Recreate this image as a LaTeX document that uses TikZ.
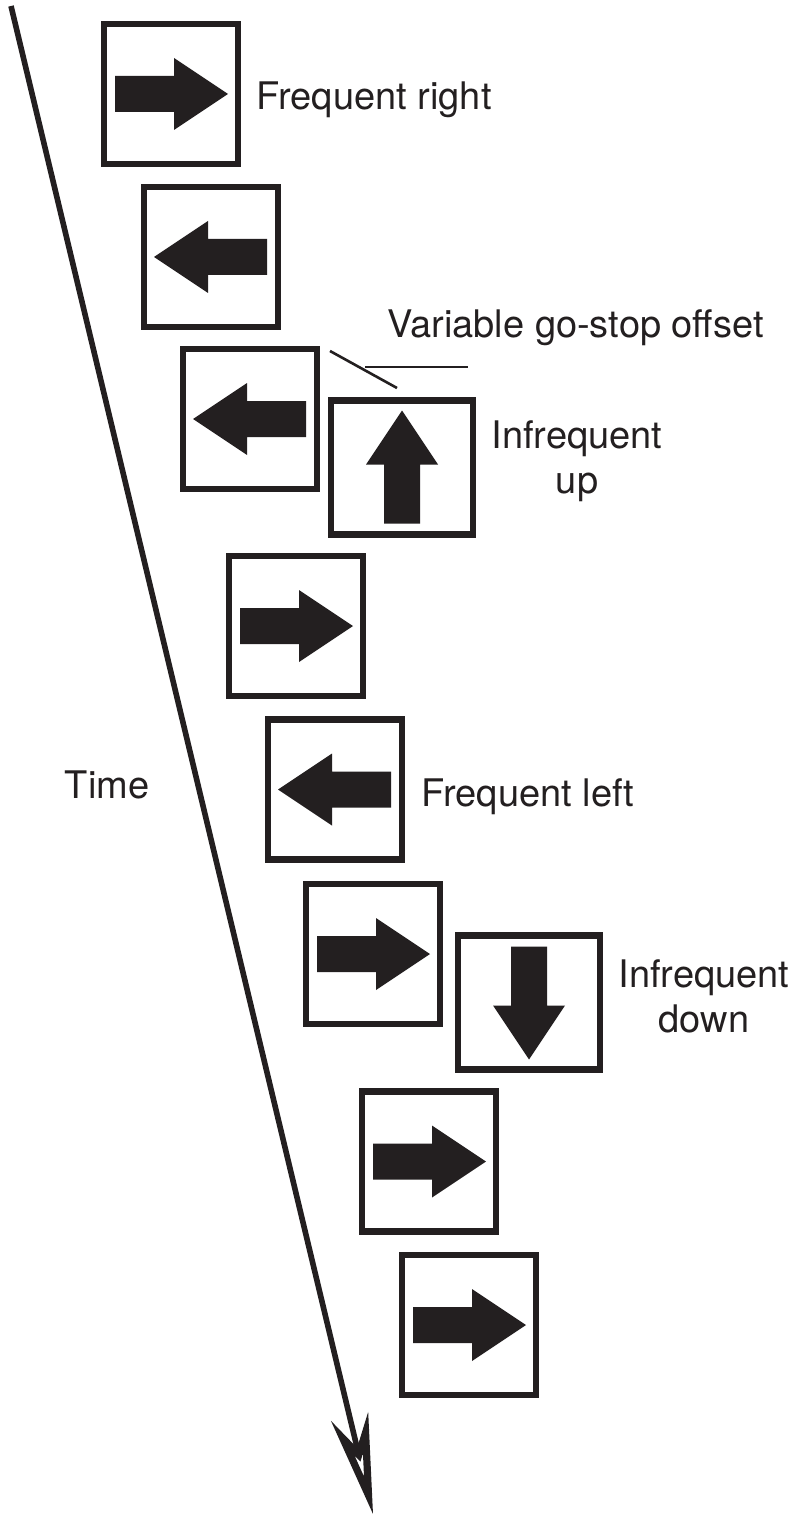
\documentclass[tikz,border=0pt]{standalone}
\usepackage{fontspec}
\setmainfont{TeX Gyre Heros}
\usetikzlibrary{arrows.meta, positioning}
\definecolor{inkblack}{HTML}{231F20}

\begin{document}
\begin{tikzpicture}[
  x=0.5pt, y=-0.5pt,
  stimbox/.style={rectangle, draw=inkblack, line width=3.2pt, fill=white,
    minimum width=67pt, minimum height=70pt, inner sep=0pt},
  oddbox/.style={stimbox, minimum width=71pt, minimum height=67pt},
  cue/.style={font=\fontsize{19}{22.5}\selectfont, text=inkblack,
    inner sep=0pt, align=center},
  timeline/.style={-{Stealth[open, length=50pt, width=19pt, inset=16pt, line width=3.6pt]},
    line width=2.8pt, draw=inkblack},
  pointer/.style={line width=1.3pt, draw=inkblack},
  stimarrow/.pic={\fill[inkblack] (-56,-18) -- (3,-18) -- (3,-36) -- (57,0)
    -- (3,36) -- (3,18) -- (-56,18) -- cycle;}
]
\useasboundingbox (0,0) rectangle (788,1519);
% time axis
\coordinate (tstart) at (11,6);
\coordinate (tend) at (373,1514);
\draw[timeline] (tstart) -- (tend);
\node[cue] (lbltime) at (107,785) {Time};
% stimulus boxes
\node[stimbox] (s1) at (171,94) {};
\node[stimbox] (s2) at (211,257) {};
\node[stimbox] (s3) at (250,419) {};
\node[oddbox] (su) at (402,467.5) {};
\node[stimbox] (s4) at (296,626) {};
\node[stimbox] (s5) at (335,789.5) {};
\node[stimbox] (s6) at (373,954) {};
\node[oddbox] (sd) at (529,1002.5) {};
\node[stimbox] (s7) at (429,1161.5) {};
\node[stimbox] (s8) at (469,1325) {};
\pic at (s1) {stimarrow};
\pic[rotate=180] at (s2) {stimarrow};
\pic[rotate=180] at (s3) {stimarrow};
\pic[rotate=90] at (su) {stimarrow};
\pic at (s4) {stimarrow};
\pic[rotate=180] at (s5) {stimarrow};
\pic at (s6) {stimarrow};
\pic[rotate=-90] at (sd) {stimarrow};
\pic at (s7) {stimarrow};
\pic at (s8) {stimarrow};
% labels
\node[cue, right=7.5pt of s1, yshift=-3pt] (lblright) {Frequent right};
\node[cue, right=7.5pt of su, yshift=3pt] (lblup) {Infrequent\\up};
\node[cue, right=8pt of s5, yshift=-3.5pt] (lblleft) {Frequent left};
\node[cue, right=7.5pt of sd, yshift=3pt] (lbldown) {Infrequent\\down};
\node[cue, anchor=base west] (lbloffset) at (387,338) {Variable go-stop offset};
% offset marker
\coordinate (slantA) at (330,351);
\coordinate (slantB) at (397,388);
\coordinate (levelA) at (365,367);
\coordinate (levelB) at (468,367);
\draw[pointer] (slantA) -- (slantB);
\draw[pointer] (levelA) -- (levelB);
\end{tikzpicture}
\end{document}
